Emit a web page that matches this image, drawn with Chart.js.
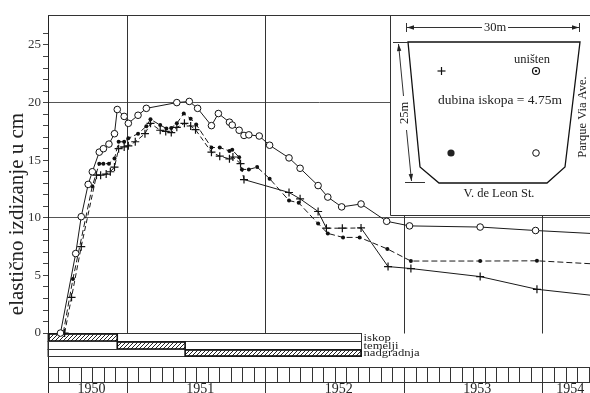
<!DOCTYPE html>
<html>
<head>
<meta charset="utf-8">
<script src="https://cdn.jsdelivr.net/npm/chart.js@4.4.1/dist/chart.umd.min.js"></script>
<style>
  html, body { margin: 0; padding: 0; background: #fff; }
  #wrap { width: 590px; height: 393px; }
</style>
</head>
<body>
<div id="wrap"><canvas id="chart" width="590" height="393"></canvas></div>
<script>
// x = decimal year, y = elastic rebound in cm
var circleX = [1950.52, 1950.63, 1950.67, 1950.72, 1950.75, 1950.80, 1950.83, 1950.87, 1950.91, 1950.93,
  1950.98, 1951.01, 1951.08, 1951.14, 1951.36, 1951.45, 1951.51, 1951.61, 1951.66, 1951.74,
  1951.76, 1951.81, 1951.845, 1951.88, 1951.955, 1952.03, 1952.17, 1952.25, 1952.38, 1952.45,
  1952.55, 1952.69, 1952.875, 1953.04, 1953.55, 1953.95, 1954.45];
var circleY = [0, 6.9, 10.1, 12.9, 14.0, 15.7, 16.0, 16.4, 17.3, 19.4,
  18.8, 18.2, 18.9, 19.5, 20.0, 20.1, 19.5, 18.0, 19.05, 18.3,
  18.05, 17.6, 17.15, 17.2, 17.1, 16.3, 15.2, 14.3, 12.8, 11.8,
  10.95, 11.2, 9.7, 9.3, 9.2, 8.9, 8.58];

var dotX = [1950.54, 1950.61, 1950.75, 1950.80, 1950.83, 1950.87, 1950.91, 1950.94, 1950.98, 1951.01,
  1951.08, 1951.14, 1951.17, 1951.24, 1951.285, 1951.32, 1951.36, 1951.41, 1951.46, 1951.50,
  1951.61, 1951.67, 1951.74, 1951.76, 1951.81, 1951.83, 1951.88, 1951.94, 1952.03, 1952.17,
  1952.24, 1952.38, 1952.45, 1952.56, 1952.68, 1952.88, 1953.05, 1953.55, 1953.96, 1954.45];
var dotY = [0, 4.7, 12.75, 14.7, 14.7, 14.7, 15.15, 16.6, 16.6, 16.9,
  17.3, 17.95, 18.55, 18.05, 17.75, 17.8, 18.2, 19.05, 18.6, 18.1,
  16.1, 16.1, 15.8, 15.9, 15.25, 14.2, 14.2, 14.4, 13.4, 11.5,
  11.3, 9.5, 8.65, 8.3, 8.3, 7.3, 6.25, 6.25, 6.27, 5.95];

var plusX = [1950.55, 1950.60, 1950.67, 1950.78, 1950.81, 1950.85, 1950.88, 1950.91, 1950.94, 1950.98,
  1951.01, 1951.06, 1951.13, 1951.17, 1951.24, 1951.28, 1951.32, 1951.36, 1951.415, 1951.46,
  1951.495, 1951.61, 1951.67, 1951.74, 1951.765, 1951.82, 1951.845, 1952.17, 1952.25, 1952.38,
  1952.44, 1952.555, 1952.69, 1952.885, 1953.05, 1953.55, 1953.96, 1954.45];
var plusY = [0, 3.1, 7.5, 13.7, 13.7, 13.8, 14.0, 14.4, 16.0, 16.15,
  16.25, 16.6, 17.3, 18.2, 17.6, 17.5, 17.4, 17.85, 18.2, 17.97,
  17.65, 15.7, 15.35, 15.12, 15.28, 14.7, 13.32, 12.2, 11.65, 10.55,
  9.1, 9.1, 9.12, 5.77, 5.6, 4.9, 3.8, 3.15];

var yTicks = [0, 1, 2, 3, 4, 5, 6, 7, 8, 9, 10, 11, 12, 13, 14, 15, 16, 17, 18, 19, 20, 21, 22, 23, 24, 25, 26];
var yearLabels = [1950, 1951, 1952, 1953, 1954];

var phaseNames = ['iskop', 'temelji', 'nadgradnja'];
var phaseStart = [1950.30, 1950.93, 1951.42];
var phaseEnd = [1950.93, 1951.42, 1952.69];
var phaseRowEnd = 1952.69;

var yTitle = 'elastično izdizanje u cm';

function toPoints(xs, ys) {
  return xs.map(function(x, i) { return { x: x, y: ys[i] }; });
}

var SERIF = "'Liberation Serif', 'DejaVu Serif', serif";
var INK = '#222';

var hatchPattern = null;
function getHatch(ctx) {
  if (hatchPattern) return hatchPattern;
  var p = document.createElement('canvas');
  p.width = 4; p.height = 4;
  var g = p.getContext('2d');
  g.strokeStyle = '#222';
  g.lineWidth = 1;
  g.beginPath();
  g.moveTo(0, 4); g.lineTo(4, 0);
  g.moveTo(-1, 1); g.lineTo(1, -1);
  g.moveTo(3, 5); g.lineTo(5, 3);
  g.stroke();
  hatchPattern = ctx.createPattern(p, 'repeat');
  return hatchPattern;
}

function seg(ctx, x1, y1, x2, y2) {
  ctx.beginPath();
  ctx.moveTo(x1, y1);
  ctx.lineTo(x2, y2);
  ctx.stroke();
}

function arrowHead(ctx, x, y, ang) {
  ctx.save();
  ctx.translate(x, y);
  ctx.rotate(ang);
  ctx.beginPath();
  ctx.moveTo(0, 0);
  ctx.lineTo(-7, -2.2);
  ctx.lineTo(-7, 2.2);
  ctx.closePath();
  ctx.fill();
  ctx.restore();
}

// grid, frame, site plan inset and the construction-phase strip
var paperPlugin = {
  id: 'paper',
  beforeDatasetsDraw: function(chart) {
    var ctx = chart.ctx, a = chart.chartArea;
    var xs = chart.scales.x, ys = chart.scales.y;
    var y0 = Math.round(ys.getPixelForValue(0)) + 0.5;
    ctx.save();
    ctx.strokeStyle = '#333';
    ctx.fillStyle = INK;
    ctx.lineWidth = 1;

    // top frame and year grid lines
    seg(ctx, a.left, a.top + 0.5, a.right, a.top + 0.5);
    yearLabels.forEach(function(yr) {
      var v = yr + 1;
      if (v <= xs.min || v >= xs.max) return;
      var px = Math.round(xs.getPixelForValue(v)) + 0.5;
      seg(ctx, px, a.top, px, y0);
    });

    // inset: site plan
    ctx.fillStyle = '#fff';
    ctx.fillRect(390, a.top + 1, a.right - 390, 200);
    ctx.fillStyle = INK;
    seg(ctx, 390.5, a.top, 390.5, 215.5);
    seg(ctx, 390.5, 215.5, a.right, 215.5);

    ctx.lineWidth = 1.3;
    ctx.strokeStyle = '#111';
    ctx.beginPath();
    ctx.moveTo(408, 42); ctx.lineTo(580, 42); ctx.lineTo(565, 167);
    ctx.lineTo(547, 183); ctx.lineTo(439, 183); ctx.lineTo(420, 167);
    ctx.closePath();
    ctx.stroke();

    ctx.lineWidth = 1;
    ctx.strokeStyle = '#333';
    // 30m
    seg(ctx, 407, 27.5, 482, 27.5);
    seg(ctx, 508, 27.5, 579, 27.5);
    seg(ctx, 406.5, 23, 406.5, 32);
    seg(ctx, 579.5, 23, 579.5, 32);
    arrowHead(ctx, 407, 27.5, Math.PI);
    arrowHead(ctx, 579, 27.5, 0);
    // 25m
    seg(ctx, 393, 42.5, 408, 42.5);
    seg(ctx, 405, 182.5, 425, 182.5);
    seg(ctx, 398.5, 44, 403.5, 96);
    seg(ctx, 406.5, 130, 411.5, 181);
    var ang = Math.atan2(181 - 44, 411.5 - 398.5);
    arrowHead(ctx, 398.5, 44, ang + Math.PI);
    arrowHead(ctx, 411.5, 181, ang);

    ctx.font = '12.5px ' + SERIF;
    ctx.textAlign = 'center';
    ctx.textBaseline = 'middle';
    ctx.fillText('30m', 495, 27.5);
    ctx.fillText('uništen', 532, 60);
    ctx.fillText('V. de Leon St.', 499, 194);
    ctx.save();
    ctx.translate(405, 113);
    ctx.rotate(-Math.PI / 2);
    ctx.fillText('25m', 0, 0);
    ctx.restore();
    ctx.save();
    ctx.translate(583, 117);
    ctx.rotate(-Math.PI / 2);
    ctx.fillText('Parque Via Ave.', 0, 0);
    ctx.restore();
    ctx.font = '13.5px ' + SERIF;
    ctx.fillText('dubina iskopa = 4.75m', 500, 100);

    // benchmark symbols
    ctx.lineWidth = 1.2;
    ctx.strokeStyle = '#111';
    seg(ctx, 437.5, 71, 445.5, 71);
    seg(ctx, 441.5, 67, 441.5, 75);
    ctx.beginPath(); ctx.arc(536, 71, 3.5, 0, Math.PI * 2); ctx.stroke();
    ctx.beginPath(); ctx.arc(536, 71, 1.2, 0, Math.PI * 2); ctx.fill();
    ctx.beginPath(); ctx.arc(451, 153, 3.6, 0, Math.PI * 2); ctx.fill();
    ctx.lineWidth = 1;
    ctx.beginPath(); ctx.arc(536, 153, 3.3, 0, Math.PI * 2); ctx.stroke();

    // phase rows
    var rowVals = [0, -0.69, -1.34, -2.0];
    var rowRight = Math.round(xs.getPixelForValue(phaseRowEnd)) + 0.5;
    ctx.strokeStyle = '#333';
    ctx.lineWidth = 1;
    for (var i = 0; i < phaseNames.length; i++) {
      var top = Math.round(ys.getPixelForValue(rowVals[i])) + 0.5;
      var bot = Math.round(ys.getPixelForValue(rowVals[i + 1])) + 0.5;
      ctx.strokeRect(a.left, top, rowRight - a.left, bot - top);
      var x1 = Math.max(a.left + 1, xs.getPixelForValue(phaseStart[i]));
      var x2 = xs.getPixelForValue(phaseEnd[i]);
      ctx.fillStyle = getHatch(ctx);
      ctx.fillRect(x1, top + 1, x2 - x1, bot - top - 1.5);
      ctx.lineWidth = 1.6;
      ctx.strokeStyle = '#111';
      ctx.strokeRect(x1, top + 0.5, x2 - x1, bot - top - 1);
      ctx.lineWidth = 1;
      ctx.strokeStyle = '#333';
      ctx.fillStyle = INK;
      ctx.save();
      ctx.font = '11px ' + SERIF;
      ctx.textAlign = 'left';
      ctx.textBaseline = 'alphabetic';
      ctx.translate(rowRight + 2, bot - 1);
      ctx.scale(1.15, 1);
      ctx.fillText(phaseNames[i], 0, 0);
      ctx.restore();
    }

    // month strip and year labels
    var sTop = Math.round(ys.getPixelForValue(-2.98)) + 0.5;
    var sBot = Math.round(ys.getPixelForValue(-4.25)) + 0.5;
    seg(ctx, a.left, sTop, a.right, sTop);
    seg(ctx, a.left, sBot, a.right, sBot);
    for (var m = Math.ceil(xs.min * 12); m <= Math.floor(xs.max * 12); m++) {
      var px = Math.round(xs.getPixelForValue(m / 12)) + 0.5;
      if (px <= a.left + 1) continue;
      seg(ctx, px, sTop, px, m % 12 === 0 ? a.bottom : sBot);
    }
    ctx.font = '14px ' + SERIF;
    ctx.textAlign = 'center';
    ctx.textBaseline = 'alphabetic';
    ctx.fillStyle = INK;
    yearLabels.forEach(function(yr) {
      var lo = Math.max(yr, xs.min), hi = Math.min(yr + 1, xs.max);
      ctx.fillText(String(yr), xs.getPixelForValue((lo + hi) / 2) + 4, a.bottom - 0.5);
    });

    // y axis title
    ctx.save();
    ctx.translate(17, 214);
    ctx.rotate(-Math.PI / 2);
    ctx.font = '21px ' + SERIF;
    ctx.textAlign = 'center';
    ctx.textBaseline = 'middle';
    ctx.fillText(yTitle, 0, 0);
    ctx.restore();

    ctx.restore();
  }
};

var lineBase = { borderColor: '#1a1a1a', borderWidth: 1, tension: 0, pointBorderColor: '#111' };

new Chart(document.getElementById('chart'), {
  type: 'line',
  data: {
    datasets: [
      Object.assign({}, lineBase, {
        label: 'o',
        data: toPoints(circleX, circleY),
        pointStyle: 'circle', pointRadius: 3.3, pointBackgroundColor: '#fff', pointBorderWidth: 1
      }),
      Object.assign({}, lineBase, {
        label: 'dot',
        data: toPoints(dotX, dotY),
        borderDash: [6, 3],
        pointStyle: 'circle', pointRadius: 2, pointBackgroundColor: '#111', pointBorderWidth: 0
      }),
      Object.assign({}, lineBase, {
        label: 'plus',
        data: toPoints(plusX, plusY),
        segment: {
          borderDash: function(c) {
            var x0 = c.p0.parsed.x;
            return (x0 < 1951.84 || (x0 >= 1952.44 && x0 < 1952.69)) ? [5, 3] : undefined;
          }
        },
        pointStyle: 'cross', pointRadius: 4, pointBorderWidth: 1.2
      })
    ]
  },
  options: {
    responsive: false,
    animation: false,
    devicePixelRatio: 1,
    layout: { autoPadding: false, padding: { top: 15, left: 0, right: 0, bottom: 0 } },
    plugins: { legend: { display: false }, tooltip: { enabled: false } },
    scales: {
      x: { type: 'linear', min: 1950.43, max: 1954.343, display: false },
      y: {
        type: 'linear', min: -5.2, max: 27.6,
        afterBuildTicks: function(s) { s.ticks = yTicks.map(function(v) { return { value: v }; }); },
        afterFit: function(s) { s.width = 48; s.paddingTop = 0; s.paddingBottom = 0; },
        ticks: {
          autoSkip: false, padding: 2, color: '#333',
          font: { family: SERIF, size: 13 },
          callback: function(v) { return v % 5 === 0 ? String(v) : ''; }
        },
        grid: {
          color: function(c) { return (c.tick && (c.tick.value === 10 || c.tick.value === 20)) ? '#555' : 'rgba(0,0,0,0)'; },
          tickColor: '#444', tickLength: 5, lineWidth: 1
        },
        border: { color: '#222', width: 1 }
      }
    }
  },
  plugins: [paperPlugin]
});
</script>
</body>
</html>
